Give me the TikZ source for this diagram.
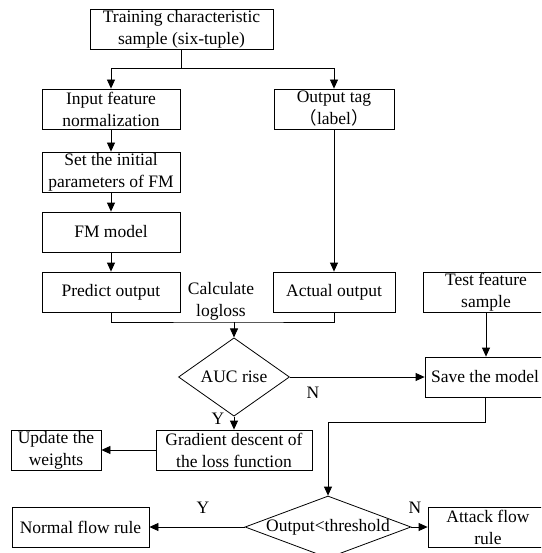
\documentclass[tikz,border=0pt]{standalone}
\usepackage{fontspec}
\setmainfont{Liberation Serif}
\newfontfamily\cjk{Noto Sans CJK SC}
\usetikzlibrary{arrows.meta,shapes.geometric}

\begin{document}
\begin{tikzpicture}[x=1pt, y=-1pt, line width=0.8pt,
        every node/.style={font=\fontsize{17.5}{22}\selectfont},
        box/.style={draw, minimum height=40, inner sep=0, align=center},
        decision/.style={diamond, draw, inner sep=0},
        arr/.style={-{Triangle[length=9pt,width=8pt]}}]
        \useasboundingbox (0,0) rectangle (541,553);
        \clip (0,0) rectangle (541,553);

        \node[box, minimum width=183] (train) at (181.5,29) {Training characteristic\\sample (six-tuple)};
        \node[box, minimum width=138] (norm) at (111,109) {Input feature\\normalization};
        \node[box, minimum width=120] (tag) at (334,109) {Output tag\\{\cjk （}label{\cjk ）}};
        \node[box, minimum width=138] (init) at (111,172) {Set the initial\\parameters of FM};
        \node[box, minimum width=138] (fm) at (111,232) {FM model};
        \node[box, minimum width=138] (pred) at (111,292) {Predict output};
        \node[box, minimum width=122] (act) at (334,292) {Actual output};
        \node[align=center, inner sep=0] (calc) at (221,301) {Calculate\\logloss};
        \node[box, minimum width=126] (test) at (486,292) {Test feature\\sample};
        \node[decision, minimum width=111, minimum height=63] (auc) at (234,377) {AUC rise};
        \node[box, minimum width=120] (save) at (485,377) {Save the model};
        \node[box, minimum width=156] (grad) at (234,450) {Gradient descent of\\the loss function};
        \node[box, minimum width=90] (upd) at (56,450) {Update the\\weights};
        \node[decision, minimum width=166, minimum height=62,
              label={[inner sep=0]center:Output<threshold}] (thr) at (328,527) {};
        \node[box, minimum width=137] (normal) at (80.5,527) {Normal flow rule};
        \node[box, minimum width=120] (attack) at (488,527) {Attack flow\\rule};

        % Y / N marks
        \node (n1) at (313,393) {N};
        \node (y1) at (218,419) {Y};
        \node (y2) at (203,508) {Y};
        \node (n2) at (415,508) {N};

        \coordinate (fork) at (181.5,68);
        \coordinate (join) at (234,322);

        \draw (train) -- (fork);
        \draw[arr] (fork) -| (norm);
        \draw[arr] (fork) -| (tag);
        \draw[arr] (norm) -- (init);
        \draw[arr] (init) -- (fm);
        \draw[arr] (fm) -- (pred);
        \draw[arr] (tag) -- (act);
        \draw (pred) |- (join) -| (act);
        \draw[arr] (join) -- (auc);
        \draw[arr] (test.south) -- (test.south |- save.north);
        \draw[arr] (auc) -- (save);
        \draw[arr] (auc) -- (grad);
        \draw[arr] (grad) -- (upd);
        \draw[arr] (save.south) -- ++(0,25) -| (thr.north);
        \draw[arr] (thr) -- (normal);
        \draw[arr] (thr) -- (attack);
\end{tikzpicture}
\end{document}
